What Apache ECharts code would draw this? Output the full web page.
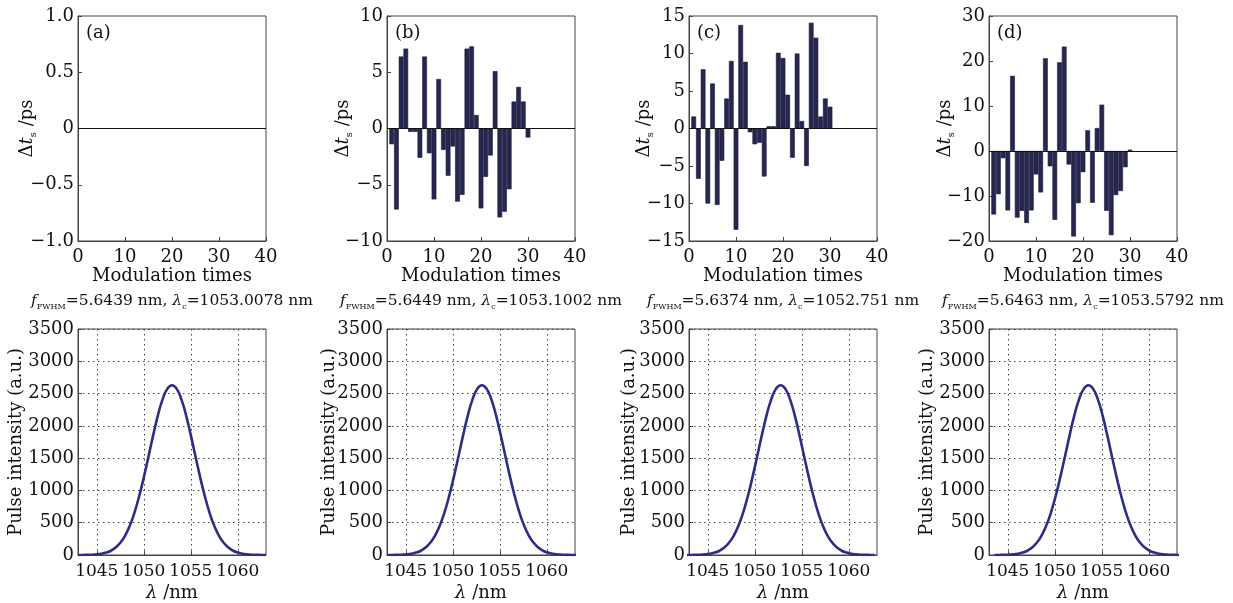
<!DOCTYPE html>
<html>
<head>
<meta charset="utf-8">
<script src="https://cdn.jsdelivr.net/npm/echarts@6/dist/echarts.min.js"></script>
<style>
  html, body { margin: 0; padding: 0; background: #ffffff; }
  #chart { width: 1233px; height: 603px; }
</style>
</head>
<body>
<div id="chart"></div>
<script>
// ---------------- DATA ----------------
const modulationTimes = [1,2,3,4,5,6,7,8,9,10,11,12,13,14,15,16,17,18,19,20,21,22,23,24,25,26,27,28,29,30];

const deltaA = [0,0,0,0,0,0,0,0,0,0,0,0,0,0,0,0,0,0,0,0,0,0,0,0,0,0,0,0,0,0];
const deltaB = [-1.4,-7.2,6.4,7.1,-0.3,-0.3,-2.6,6.4,-2.2,-6.3,4.4,-1.9,-4.2,-1.6,-6.5,-5.9,7.1,7.3,1.2,-7.1,-4.3,-2.4,5.1,-7.9,-7.4,-5.4,2.4,3.7,2.4,-0.8];
const deltaC = [1.6,-6.7,7.9,-10.0,6.0,-10.2,-4.3,4.0,9.0,-13.5,13.8,8.9,-0.5,-2.1,-1.9,-6.4,0.3,0.3,10.1,9.4,4.5,-3.9,10.0,1.0,-5.0,14.1,12.1,1.6,4.0,2.9];
const deltaD = [-14.1,-9.6,-1.6,-13.2,16.7,-14.8,-13.3,-16.0,-13.2,-5.2,-9.2,20.6,-3.4,-15.3,19.7,23.2,-3.0,-19.0,-11.6,-4.7,4.6,-11.5,5.1,10.3,-13.3,-18.7,-9.8,-8.9,-3.6,0.3];

const topYMin = [-1, -10, -15, -20];
const topYMax = [1, 10, 15, 30];
const topYStep = [0.5, 5, 5, 10];

const lambdaA = [1043.0,1043.5,1044.0,1044.5,1045.0,1045.5,1046.0,1046.5,1047.0,1047.5,1048.0,1048.5,1049.0,1049.5,1050.0,1050.5,1051.0,1051.5,1052.0,1052.5,1053.0,1053.5,1054.0,1054.5,1055.0,1055.5,1056.0,1056.5,1057.0,1057.5,1058.0,1058.5,1059.0,1059.5,1060.0,1060.5,1061.0,1061.5,1062.0,1062.5,1063.0];
const lambdaB = [1043.1,1043.6,1044.1,1044.6,1045.1,1045.6,1046.1,1046.6,1047.1,1047.6,1048.1,1048.6,1049.1,1049.6,1050.1,1050.6,1051.1,1051.6,1052.1,1052.6,1053.1,1053.6,1054.1,1054.6,1055.1,1055.6,1056.1,1056.6,1057.1,1057.6,1058.1,1058.6,1059.1,1059.6,1060.1,1060.6,1061.1,1061.6,1062.1,1062.6,1063.1];
const lambdaC = [1042.75,1043.25,1043.75,1044.25,1044.75,1045.25,1045.75,1046.25,1046.75,1047.25,1047.75,1048.25,1048.75,1049.25,1049.75,1050.25,1050.75,1051.25,1051.75,1052.25,1052.75,1053.25,1053.75,1054.25,1054.75,1055.25,1055.75,1056.25,1056.75,1057.25,1057.75,1058.25,1058.75,1059.25,1059.75,1060.25,1060.75,1061.25,1061.75,1062.25,1062.75];
const lambdaD = [1043.58,1044.08,1044.58,1045.08,1045.58,1046.08,1046.58,1047.08,1047.58,1048.08,1048.58,1049.08,1049.58,1050.08,1050.58,1051.08,1051.58,1052.08,1052.58,1053.08,1053.58,1054.08,1054.58,1055.08,1055.58,1056.08,1056.58,1057.08,1057.58,1058.08,1058.58,1059.08,1059.58,1060.08,1060.58,1061.08,1061.58,1062.08,1062.58,1063.08,1063.58];
const pulseIntensity = [0,1,2,5,10,20,37,66,115,189,298,451,653,906,1202,1526,1857,2162,2411,2573,2630,2573,2411,2162,1857,1526,1202,906,653,451,298,189,115,66,37,20,10,5,2,1,0];

const lambdaTicks = [1045, 1050, 1055, 1060];
const panelLetters = ['(a)', '(b)', '(c)', '(d)'];
const fwhmValues = ['5.6439', '5.6449', '5.6374', '5.6463'];
const centerValues = ['1053.0078', '1053.1002', '1052.751', '1053.5792'];

// ---------------- LAYOUT / STYLE ----------------
const SERIF = 'DejaVu Serif';
const panelLeft = [78, 387, 689, 989];
const panelWidth = 188;
const topTop = 16, topHeight = 225;
const botTop = 329, botHeight = 228;
const yNameGapTop = [40, 33, 34, 33];
const yNameGapBot = [53, 49, 51, 53];
const deltaSets = [deltaA, deltaB, deltaC, deltaD];
const lambdaSets = [lambdaA, lambdaB, lambdaC, lambdaD];

const minus = v => (v < 0 ? '\u2212' : '') + Math.abs(v);
const fmtA = v => v === 0 ? '0' : (v < 0 ? '\u2212' : '') + Math.abs(v).toFixed(1);
const plain = v => String(v);

const richBase = {
  n: { fontFamily: SERIF, fontSize: 18, fontWeight: 'normal', color: '#111', lineHeight: 22 },
  i: { fontFamily: SERIF, fontSize: 18, fontWeight: 'normal', fontStyle: 'italic', color: '#111', lineHeight: 22 },
  s: { fontFamily: SERIF, fontSize: 10, fontWeight: 'normal', color: '#111', lineHeight: 11, verticalAlign: 'bottom' }
};

const grids = [], xAxes = [], yAxes = [], series = [], titles = [], graphics = [];
const axisLineStyle = { show: true, onZero: false, lineStyle: { color: '#444', width: 1 } };
const tickStyle = { show: true, inside: true, length: 4, lineStyle: { color: '#444' } };

for (let p = 0; p < 4; p++) {
  grids.push({ left: panelLeft[p], top: topTop, width: panelWidth, height: topHeight,
    show: true, borderColor: '#444', borderWidth: 1, backgroundColor: 'transparent' });
}
for (let p = 0; p < 4; p++) {
  grids.push({ left: panelLeft[p], top: botTop, width: panelWidth, height: botHeight,
    show: true, borderColor: '#444', borderWidth: 1, backgroundColor: 'transparent' });
}

for (let p = 0; p < 4; p++) {
  xAxes.push({
    type: 'value', gridIndex: p, min: 0, max: 40, interval: 10,
    axisLine: axisLineStyle, axisTick: tickStyle,
    splitLine: { show: false },
    axisLabel: { fontFamily: SERIF, fontSize: 18, color: '#111', margin: 7, formatter: plain },
    name: 'Modulation times', nameLocation: 'middle', nameGap: 26, nameMoveOverlap: false,
    nameTextStyle: { fontFamily: SERIF, fontSize: 18, color: '#111' }
  });
  yAxes.push({
    type: 'value', gridIndex: p, min: topYMin[p], max: topYMax[p], interval: topYStep[p],
    axisLine: axisLineStyle, axisTick: tickStyle,
    splitLine: { show: false },
    axisLabel: { fontFamily: SERIF, fontSize: 18, color: '#111', margin: 4,
      formatter: p === 0 ? fmtA : minus },
    name: '{n|\u0394}{i|t}{s|s}{n| /ps}', nameLocation: 'middle', nameGap: yNameGapTop[p], nameRotate: 90,
    nameMoveOverlap: false,
    nameTextStyle: { rich: richBase }
  });
}
for (let p = 0; p < 4; p++) {
  xAxes.push({
    type: 'value', gridIndex: 4 + p, min: 1043, max: 1063,
    axisLine: axisLineStyle,
    axisTick: Object.assign({}, tickStyle, { customValues: lambdaTicks }),
    axisLabel: { fontFamily: SERIF, fontSize: 17, color: '#111', margin: 8, customValues: lambdaTicks, formatter: plain },
    splitLine: { show: true, lineStyle: { color: '#444', type: [1.5, 3.5], width: 1 } },
    name: '{i|\u03bb}{n| /nm}', nameLocation: 'middle', nameGap: 27, nameMoveOverlap: false,
    nameTextStyle: { rich: richBase }
  });
  yAxes.push({
    type: 'value', gridIndex: 4 + p, min: 0, max: 3500, interval: 500,
    axisLine: axisLineStyle, axisTick: tickStyle,
    axisLabel: { fontFamily: SERIF, fontSize: 18, color: '#111', margin: 4, formatter: plain },
    splitLine: { show: true, lineStyle: { color: '#444', type: [1.5, 3.5], width: 1 } },
    name: 'Pulse intensity (a.u.)', nameLocation: 'middle', nameGap: yNameGapBot[p], nameRotate: 90,
    nameMoveOverlap: false,
    nameTextStyle: { fontFamily: SERIF, fontSize: 18, color: '#111' }
  });
}

for (let p = 0; p < 4; p++) {
  series.push({
    type: 'bar', xAxisIndex: p, yAxisIndex: p,
    data: modulationTimes.map((m, k) => [m, deltaSets[p][k]]),
    barWidth: '100%',
    itemStyle: { color: '#26264f', borderColor: '#15153a', borderWidth: 0.6 },
    markLine: {
      silent: true, symbol: ['none', 'none'], label: { show: false },
      lineStyle: { color: '#111', type: 'solid', width: 1.2 },
      data: [{ yAxis: 0 }]
    }
  });
}
for (let p = 0; p < 4; p++) {
  series.push({
    type: 'line', xAxisIndex: 4 + p, yAxisIndex: 4 + p,
    data: lambdaSets[p].map((l, k) => [l, pulseIntensity[k]]),
    showSymbol: false, smooth: true, clip: true,
    lineStyle: { color: '#2d2d86', width: 2.6 }
  });
}

for (let p = 0; p < 4; p++) {
  titles.push({
    text: '{i|f}{s|FWHM}{n|=' + fwhmValues[p] + ' nm, }{i|\u03bb}{s|c}{n|=' + centerValues[p] + ' nm}',
    left: panelLeft[p] + panelWidth / 2, top: 291, textAlign: 'center', padding: 0,
    textStyle: {
      fontWeight: 'normal',
      rich: {
        n: { fontFamily: SERIF, fontSize: 15.5, fontWeight: 'normal', color: '#111', lineHeight: 20 },
        i: { fontFamily: SERIF, fontSize: 15.5, fontWeight: 'normal', fontStyle: 'italic', color: '#111', lineHeight: 20 },
        s: { fontFamily: SERIF, fontSize: 8, fontWeight: 'normal', color: '#111', lineHeight: 9, verticalAlign: 'bottom' }
      }
    }
  });
  graphics.push({
    type: 'text', left: panelLeft[p] + 8, top: 24,
    style: { text: panelLetters[p], font: '18px "DejaVu Serif"', fill: '#111' }
  });
}

const chart = echarts.init(document.getElementById('chart'), null, { renderer: 'canvas' });
chart.setOption({
  animation: false,
  backgroundColor: '#ffffff',
  title: titles,
  grid: grids,
  xAxis: xAxes,
  yAxis: yAxes,
  series: series,
  graphic: graphics
});
</script>
</body>
</html>
